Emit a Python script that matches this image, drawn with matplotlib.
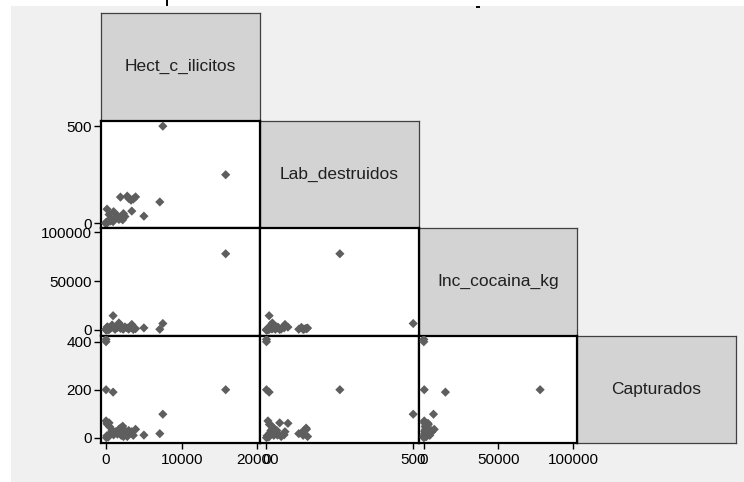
import matplotlib
matplotlib.use("Agg")
import matplotlib.pyplot as plt
from matplotlib.patches import Rectangle
from matplotlib.lines import Line2D

# ─── DATA ────────────────────────────────────────────────────
variables = ["Hect_c_ilicitos", "Lab_destruidos", "Inc_cocaina_kg", "Capturados"]

hect = [15800, 7500, 7100, 5000, 930, 0, 0, 0,
        1900, 3000, 3300, 3900, 3600, 2800, 130, 3400,
        0, 200, 500, 800, 1200, 1500, 2000, 2300,
        100, 300, 50, 600, 1700, 2500, 400, 1000, 2200]
lab = [250, 500, 110, 37, 9, 0, 0, 0,
       135, 128, 119, 136, 125, 140, 73, 63,
       5, 10, 20, 15, 30, 40, 25, 50,
       2, 8, 0, 12, 20, 35, 45, 60, 18]
inc = [78000, 6500, 600, 2000, 14500, 0, 0, 300,
       1500, 800, 2500, 1200, 400, 1800, 2800, 5500,
       300, 3000, 1200, 5000, 600, 2500, 4000, 800,
       100, 200, 50, 1800, 7000, 3000, 400, 2000, 1000]
capt = [200, 98, 17, 11, 190, 410, 400, 200,
        40, 30, 20, 35, 10, 5, 60, 25,
        70, 55, 45, 30, 25, 15, 10, 5,
        8, 3, 0, 20, 35, 30, 62, 12, 48]

data = [hect, lab, inc, capt]

x_ticks = [[0, 10000, 20000], [0, 500], [0, 50000, 100000]]
y_ticks = [None, [0, 500], [0, 50000, 100000], [0, 200, 400]]

# ─── LAYOUT (pixels) ─────────────────────────────────────────
FIG_W, FIG_H = 744, 482
LEFT, TOP = 101, 13
CELL_W, CELL_H = 158.75, 107.5

X_LIMS = [(-667, 20300), (-23, 518), (-3550, 102900)]
Y_LIMS = [None, (-24, 529), (-5800, 104400), (-22, 426)]

BG = "#f0f0f0"
BOX = "#d3d3d3"
DOT = "#5e5e5e"
FONT = "Liberation Sans"

plt.rcParams["font.family"] = [FONT, "DejaVu Sans"]

fig = plt.figure(figsize=(FIG_W / 100, FIG_H / 100), dpi=100)
fig.patch.set_facecolor("white")

# grey canvas, white strip on top/left
fig.add_artist(Rectangle((11 / FIG_W, 0), 1, 1 - 6 / FIG_H,
                         transform=fig.transFigure, facecolor=BG,
                         edgecolor="none", zorder=0))
# bits of a clipped title
fig.add_artist(Line2D([167 / FIG_W] * 2, [1, 1 - 5 / FIG_H],
                      transform=fig.transFigure, color="black", lw=1.4))
fig.add_artist(Line2D([477 / FIG_W, 479 / FIG_W], [1 - 7 / FIG_H] * 2,
                      transform=fig.transFigure, color="black", lw=1.4))


def cell_rect(row, col):
    x0 = (LEFT + col * CELL_W) / FIG_W
    y0 = 1 - (TOP + (row + 1) * CELL_H) / FIG_H
    return [x0, y0, CELL_W / FIG_W, CELL_H / FIG_H]


n = len(variables)
for row in range(n):
    for col in range(row + 1):
        ax = fig.add_axes(cell_rect(row, col))
        if row == col:
            # diagonal label box
            ax.set_facecolor(BOX)
            for s in ax.spines.values():
                s.set_color("#404040")
                s.set_linewidth(0.9)
            ax.set_zorder(1)
            ax.text(0.5, 0.5, variables[row], ha="center", va="center",
                    fontsize=12.5, color="#202020", transform=ax.transAxes)
            ax.set_xticks([])
            ax.set_yticks([])
            continue

        ax.set_zorder(2)
        ax.set_facecolor("white")
        ax.scatter(data[col], data[row], marker="D", s=22, color=DOT,
                   edgecolors="none", zorder=3, clip_on=True)
        ax.set_xlim(*X_LIMS[col])
        ax.set_ylim(*Y_LIMS[row])
        for s in ax.spines.values():
            s.set_color("black")
            s.set_linewidth(1.6)

        if col == 0:
            ax.set_yticks(y_ticks[row])
            ax.set_yticklabels([str(v) for v in y_ticks[row]])
            ax.tick_params(axis="y", length=5, width=1, pad=1.5,
                           labelsize=11, colors="black")
        else:
            ax.set_yticks([])

        if row == n - 1:
            ax.set_xticks(x_ticks[col])
            ax.set_xticklabels([str(v) for v in x_ticks[col]])
            ax.tick_params(axis="x", length=4, width=1, pad=3,
                           labelsize=11, colors="black")
        else:
            ax.set_xticks([])

fig.savefig("out.png", dpi=100, facecolor=fig.get_facecolor())
